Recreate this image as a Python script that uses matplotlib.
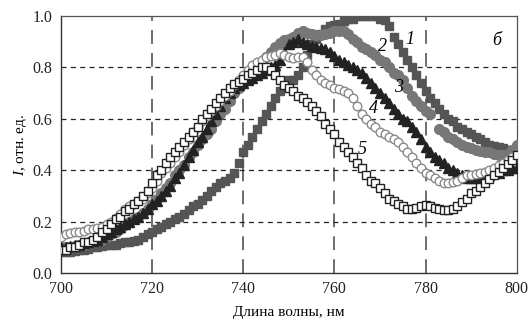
import numpy as np
import matplotlib
matplotlib.use("Agg")
import matplotlib.pyplot as plt

plt.rcParams['font.family'] = ['Liberation Serif', 'DejaVu Serif']
plt.rcParams['mathtext.fontset'] = 'custom'
plt.rcParams['mathtext.it'] = 'Liberation Serif:italic'
plt.rcParams['mathtext.rm'] = 'Liberation Serif'

wl = np.arange(700, 801, 1)

s1 = [0.08, 0.08, 0.08, 0.085, 0.09, 0.09, 0.095, 0.10, 0.10, 0.105,
      0.11, 0.11, 0.11, 0.115, 0.12, 0.12, 0.125, 0.13, 0.14, 0.15,
      0.16, 0.17, 0.18, 0.19, 0.20, 0.21, 0.22, 0.23, 0.245, 0.26,
      0.27, 0.285, 0.30, 0.32, 0.335, 0.35, 0.36, 0.37, 0.39, 0.43,
      0.47, 0.50, 0.53, 0.56, 0.59, 0.62, 0.65, 0.68, 0.71, 0.73,
      0.75, 0.75, 0.77, 0.80, 0.85, 0.89, 0.91, 0.93, 0.95, 0.96,
      0.965, 0.97, 0.98, 0.99, 0.99, 1.0, 1.0, 1.0, 1.0, 1.0,
      0.99, 0.985, 0.96, 0.92, 0.89, 0.86, 0.83, 0.80, 0.77, 0.74,
      0.71, 0.68, 0.66, 0.64, 0.62, 0.60, 0.59, 0.57, 0.56, 0.55,
      0.54, 0.53, 0.52, 0.51, 0.50, 0.495, 0.49, 0.485, 0.48, 0.48,
      0.48]

s2 = [0.10, 0.10, 0.10, 0.105, 0.11, 0.11, 0.115, 0.12, 0.125, 0.13,
      0.14, 0.15, 0.16, 0.17, 0.185, 0.20, 0.21, 0.22, 0.235, 0.25,
      0.27, 0.29, 0.31, 0.33, 0.35, 0.38, 0.40, 0.42, 0.45, 0.47,
      0.50, 0.52, 0.54, 0.56, 0.59, 0.62, 0.64, 0.67, 0.70, 0.72,
      0.74, 0.76, 0.78, 0.80, 0.82, 0.84, 0.86, 0.88, 0.895, 0.905,
      0.91, 0.92, 0.935, 0.94, 0.935, 0.93, 0.925, 0.925, 0.93, 0.935,
      0.94, 0.94, 0.94, 0.93, 0.91, 0.90, 0.88, 0.87, 0.86, 0.85,
      0.83, 0.82, 0.80, 0.78, 0.77, 0.75, 0.72, 0.69, 0.67, 0.65,
      0.63, 0.62, np.nan, 0.56, 0.55, 0.53, 0.52, 0.51, 0.50, 0.49,
      0.485, 0.48, 0.475, 0.47, 0.47, 0.465, 0.46, 0.46, 0.465, 0.48,
      0.50]

s3 = [0.10, 0.10, 0.105, 0.11, 0.11, 0.115, 0.12, 0.125, 0.13, 0.14,
      0.15, 0.16, 0.17, 0.18, 0.19, 0.20, 0.21, 0.22, 0.235, 0.25,
      0.27, 0.28, 0.30, 0.32, 0.34, 0.37, 0.39, 0.42, 0.45, 0.48,
      0.51, 0.53, 0.56, 0.59, 0.62, 0.65, 0.68, 0.70, 0.72, 0.73,
      0.74, 0.75, 0.76, 0.77, 0.78, 0.79, 0.80, 0.81, 0.83, 0.86,
      0.89, 0.90, 0.91, 0.90, 0.89, 0.885, 0.88, 0.875, 0.87, 0.86,
      0.845, 0.83, 0.82, 0.81, 0.80, 0.79, 0.78, 0.76, 0.74, 0.72,
      0.70, 0.68, 0.66, 0.64, 0.62, 0.60, 0.59, 0.57, 0.55, 0.52,
      0.49, 0.47, 0.45, 0.44, 0.43, 0.41, 0.40, 0.39, 0.38, 0.37,
      0.37, 0.37, 0.37, 0.375, 0.38, 0.39, 0.39, 0.40, 0.40, 0.41,
      0.41]

s4 = [0.14, 0.15, 0.155, 0.16, 0.16, 0.165, 0.17, 0.17, 0.175, 0.18,
      0.19, 0.20, 0.215, 0.23, 0.25, 0.26, 0.27, 0.28, 0.29, 0.31,
      0.33, 0.36, 0.39, 0.41, 0.43, 0.45, 0.47, 0.50, 0.52, 0.55,
      0.57, 0.59, 0.61, 0.63, 0.65, 0.67, 0.69, 0.71, 0.73, 0.75,
      0.77, 0.79, 0.81, 0.82, 0.83, 0.84, 0.845, 0.85, 0.855, 0.85,
      0.84, 0.835, 0.84, 0.84, 0.82, 0.79, 0.77, 0.75, 0.74, 0.73,
      0.72, 0.715, 0.71, 0.70, 0.68, 0.65, 0.62, 0.60, 0.58, 0.57,
      0.55, 0.54, 0.53, 0.52, 0.51, 0.49, 0.47, 0.45, 0.43, 0.41,
      0.39, 0.38, 0.37, 0.36, 0.35, 0.35, 0.355, 0.36, 0.37, 0.38,
      0.38, 0.385, 0.39, 0.395, 0.40, 0.41, 0.42, 0.43, 0.44, 0.45,
      0.46]

s5 = [0.09, 0.09, 0.10, 0.10, 0.11, 0.12, 0.12, 0.13, 0.14, 0.16,
      0.17, 0.19, 0.21, 0.22, 0.24, 0.25, 0.27, 0.28, 0.30, 0.32,
      0.35, 0.38, 0.40, 0.43, 0.45, 0.47, 0.49, 0.51, 0.53, 0.55,
      0.57, 0.60, 0.62, 0.64, 0.66, 0.68, 0.70, 0.72, 0.735, 0.745,
      0.755, 0.77, 0.78, 0.79, 0.80, 0.80, 0.79, 0.77, 0.75, 0.73,
      0.72, 0.71, 0.69, 0.68, 0.665, 0.65, 0.63, 0.61, 0.58, 0.56,
      0.54, 0.51, 0.49, 0.47, 0.45, 0.43, 0.41, 0.38, 0.36, 0.35,
      0.33, 0.31, 0.29, 0.28, 0.27, 0.26, 0.25, 0.25, 0.255, 0.26,
      0.265, 0.26, 0.255, 0.25, 0.245, 0.245, 0.25, 0.26, 0.275, 0.29,
      0.31, 0.32, 0.335, 0.35, 0.365, 0.38, 0.395, 0.41, 0.425, 0.44,
      0.46]

curve_labels = ['1', '2', '3', '4', '5']
label_x = [776.5, 770.5, 774, 768.5, 766]
label_y = [0.91, 0.88, 0.72, 0.64, 0.48]

fig = plt.figure(figsize=(5.3, 3.27), dpi=100)
ax = fig.add_axes([0.115, 0.165, 0.86, 0.786])

for x in [720, 740, 760, 780]:
    ax.axvline(x, color='#444444', lw=1.1, ls=(0, (9, 6)), zorder=1)
for y in [0.2, 0.4, 0.6, 0.8]:
    ax.axhline(y, color='#222222', lw=0.9, ls=(0, (4, 3.5)), zorder=1)

ax.plot(wl, s1, ls='none', marker='s', ms=6, color='#555555', mec='#555555', zorder=2)
ax.plot(wl, s2, ls='none', marker='o', ms=7, color='#777777', mec='#777777', zorder=3)
ax.plot(wl, s3, ls='none', marker='^', ms=7, color='#222222', mec='#222222', zorder=4)
ax.plot(wl, s4, ls='none', marker='o', ms=6.2, mfc='white', mec='#8a8a8a', mew=1.0, zorder=5)
ax.plot(wl, s5, ls='none', marker='s', ms=5.4, mfc='white', mec='#222222', mew=1.0, zorder=6)

for t, x, y in zip(curve_labels, label_x, label_y):
    ax.text(x, y, t, fontsize=13, style='italic', ha='center', va='center', zorder=7)
ax.text(795.5, 0.905, 'б', fontsize=13, style='italic', ha='center', va='center')

ax.set_xlim(700, 800)
ax.set_ylim(0, 1.0)
ax.set_xticks([700, 720, 740, 760, 780, 800])
ax.set_yticks([0.0, 0.2, 0.4, 0.6, 0.8, 1.0])
ax.set_yticklabels(['0.0', '0.2', '0.4', '0.6', '0.8', '1.0'])
ax.tick_params(length=0, labelsize=11.5, pad=6, colors='#222222')

ax.set_xlabel('Длина волны, нм', fontsize=11, labelpad=6)
ax.set_ylabel('$I$, отн. ед.', fontsize=11, labelpad=3)

for sp in ['left', 'bottom']:
    ax.spines[sp].set_color('#333333')
    ax.spines[sp].set_linewidth(1.0)
for sp in ['top', 'right']:
    ax.spines[sp].set_color('#555555')
    ax.spines[sp].set_linewidth(0.9)

fig.savefig('out.png', dpi=100)
